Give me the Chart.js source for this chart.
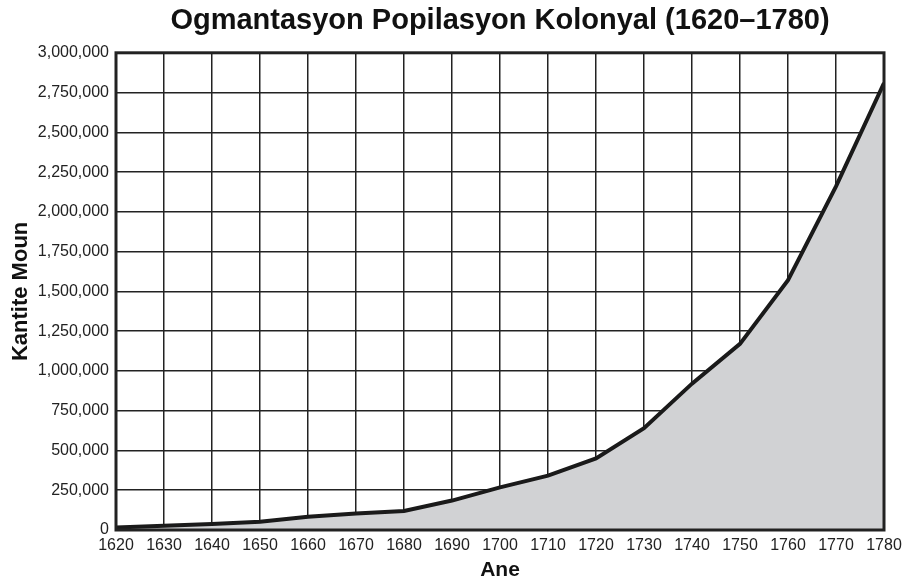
<!DOCTYPE html>
<html>
<head>
<meta charset="utf-8">
<script src="https://cdn.jsdelivr.net/npm/chart.js@4/dist/chart.umd.min.js"></script>
<style>
  body { margin: 0; background: #fff; }
  #wrap { width: 903px; height: 584px; }
</style>
</head>
<body>
<div id="wrap"><canvas id="popChart"></canvas></div>
<script>
// Done (estime depi grafik la)
const years = [1620, 1630, 1640, 1650, 1660, 1670, 1680, 1690, 1700, 1710, 1720, 1730, 1740, 1750, 1760, 1770, 1780];
const population = [15000, 27000, 38000, 52000, 84000, 104000, 120000, 185000, 268000, 342000, 450000, 640000, 920000, 1170000, 1570000, 2160000, 2810000];
const yTicks = [0, 250000, 500000, 750000, 1000000, 1250000, 1500000, 1750000, 2000000, 2250000, 2500000, 2750000, 3000000];

const FONT = '"Liberation Sans", Arial, Helvetica, sans-serif';

// Bordi ozalantou zòn grafik la
const frame = {
    id: 'frame',
    afterDraw(chart) {
        const { ctx, chartArea: a } = chart;
        ctx.save();
        ctx.strokeStyle = '#222';
        ctx.lineWidth = 3;
        ctx.strokeRect(a.left, a.top, a.right - a.left, a.bottom - a.top);
        ctx.restore();
    }
};

new Chart(document.getElementById('popChart'), {
    type: 'line',
    data: {
        datasets: [{
            data: years.map((y, i) => ({ x: y, y: population[i] })),
            borderColor: '#1a1a1a',
            borderWidth: 4,
            backgroundColor: '#d1d2d4',
            fill: 'origin',
            tension: 0,
            pointRadius: 0
        }]
    },
    options: {
        responsive: true,
        maintainAspectRatio: false,
        animation: false,
        layout: { padding: { left: 8, right: 0, top: 2, bottom: 0 } },
        scales: {
            x: {
                type: 'linear',
                min: 1620,
                max: 1780,
                afterBuildTicks: axis => { axis.ticks = years.map(v => ({ value: v })); },
                afterFit: s => { s.height = 54; s.paddingRight = 19; },
                ticks: {
                    color: '#222',
                    font: { family: FONT, size: 16 },
                    padding: 6,
                    maxRotation: 0,
                    callback: v => String(v)
                },
                grid: { color: '#222', lineWidth: 1.5, drawTicks: false },
                border: { display: false },
                title: {
                    display: true,
                    text: 'Ane',
                    color: '#111',
                    font: { family: FONT, size: 21, weight: 'bold' },
                    padding: { top: 0, bottom: 1 }
                }
            },
            y: {
                min: 0,
                max: 3000000,
                afterBuildTicks: axis => { axis.ticks = yTicks.map(v => ({ value: v })); },
                afterFit: s => { s.width = 108; },
                ticks: {
                    color: '#222',
                    font: { family: FONT, size: 16 },
                    padding: 7,
                    callback: v => v.toLocaleString('en-US')
                },
                grid: { color: '#222', lineWidth: 1.5, drawTicks: false },
                border: { display: false },
                title: {
                    display: true,
                    text: 'Kantite Moun',
                    color: '#111',
                    font: { family: FONT, size: 22, weight: 'bold' },
                    padding: { top: 0, bottom: 0 }
                }
            }
        },
        plugins: {
            legend: { display: false },
            tooltip: { enabled: false },
            title: {
                display: true,
                fullSize: false,
                text: 'Ogmantasyon Popilasyon Kolonyal (1620–1780)',
                color: '#111',
                font: { family: FONT, size: 29, weight: 'bold' },
                padding: { top: 2, bottom: 14 }
            }
        }
    },
    plugins: [frame]
});
</script>
</body>
</html>
